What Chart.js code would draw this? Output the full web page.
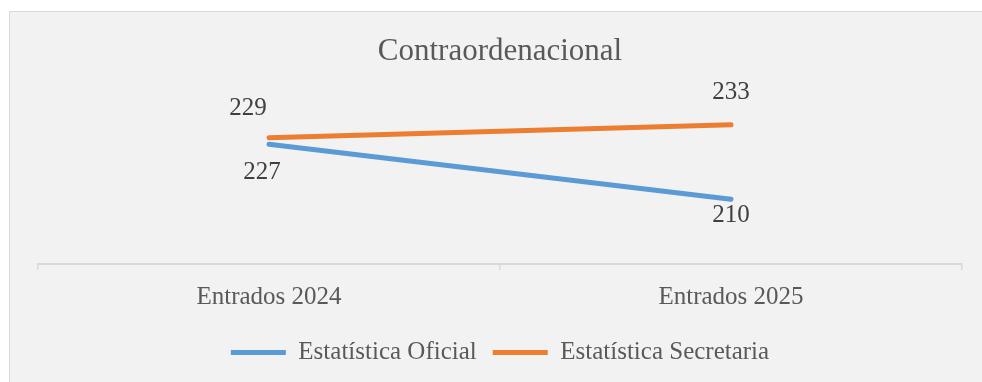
<!DOCTYPE html>
<html>
<head>
<meta charset="utf-8">
<script src="https://cdn.jsdelivr.net/npm/chart.js@4.4.1/dist/chart.umd.min.js"></script>
<style>
  html, body { margin: 0; padding: 0; background: #fff; }
  #wrap {
    position: absolute; left: 9px; top: 11px; right: 0; bottom: 0;
    background: #f2f2f2;
    border-top: 1px solid #d9d9d9;
    border-left: 1px solid #d9d9d9;
  }
  canvas { display: block; }
</style>
</head>
<body>
<div id="wrap"><canvas id="chart"></canvas></div>
<script>
const categories = ['Entrados 2024', 'Entrados 2025'];
const oficial = [227, 210];
const secretaria = [229, 233];
const seriesNames = ['Estatística Oficial', 'Estatística Secretaria'];

const FONT = '"Liberation Serif", "DejaVu Serif", serif';

// value labels next to each point; above/below per series
const valueLabels = {
  id: 'valueLabels',
  afterDatasetsDraw(chart) {
    const ctx = chart.ctx;
    ctx.save();
    ctx.font = '25px ' + FONT;
    ctx.fillStyle = '#404040';
    ctx.textAlign = 'center';
    ctx.textBaseline = 'middle';
    chart.data.datasets.forEach((ds, i) => {
      const meta = chart.getDatasetMeta(i);
      meta.data.forEach((pt, j) => {
        const place = ds.labelPlace[j];
        ctx.fillText(String(ds.data[j]), pt.x + place.dx, pt.y + place.dy);
      });
    });
    ctx.restore();
  }
};

new Chart(document.getElementById('chart'), {
  type: 'line',
  data: {
    labels: categories,
    datasets: [
      {
        label: seriesNames[0],
        data: oficial,
        borderColor: '#5b9bd5',
        backgroundColor: '#5b9bd5',
        borderWidth: 5,
        borderCapStyle: 'round',
        pointRadius: 0,
        labelPlace: [{ dx: -7, dy: 28 }, { dx: 0, dy: 16 }]
      },
      {
        label: seriesNames[1],
        data: secretaria,
        borderColor: '#ed7d31',
        backgroundColor: '#ed7d31',
        borderWidth: 5,
        borderCapStyle: 'round',
        pointRadius: 0,
        labelPlace: [{ dx: -21, dy: -29 }, { dx: 0, dy: -32 }]
      }
    ]
  },
  options: {
    responsive: true,
    maintainAspectRatio: false,
    animation: false,
    layout: { padding: { left: 28, right: 20, top: 0, bottom: 7 } },
    plugins: {
      title: {
        display: true,
        text: 'Contraordenacional',
        color: '#595959',
        font: { family: FONT, size: 31, weight: 'normal' },
        padding: { top: 21, bottom: 32 }
      },
      legend: {
        position: 'bottom',
        labels: {
          color: '#595959',
          font: { family: FONT, size: 25 },
          usePointStyle: true,
          pointStyle: 'line',
          pointStyleWidth: 55,
          boxHeight: 25,
          padding: 16
        }
      },
      tooltip: { enabled: false }
    },
    scales: {
      x: {
        offset: true,
        grid: {
          offset: true,
          drawOnChartArea: false,
          tickLength: 6,
          color: '#d9d9d9',
          lineWidth: 1.5
        },
        border: { color: '#d9d9d9', width: 2 },
        ticks: {
          color: '#595959',
          font: { family: FONT, size: 25 },
          padding: 12
        }
      },
      y: {
        display: false,
        min: 190,
        max: 240
      }
    }
  },
  plugins: [valueLabels]
});
</script>
</body>
</html>
